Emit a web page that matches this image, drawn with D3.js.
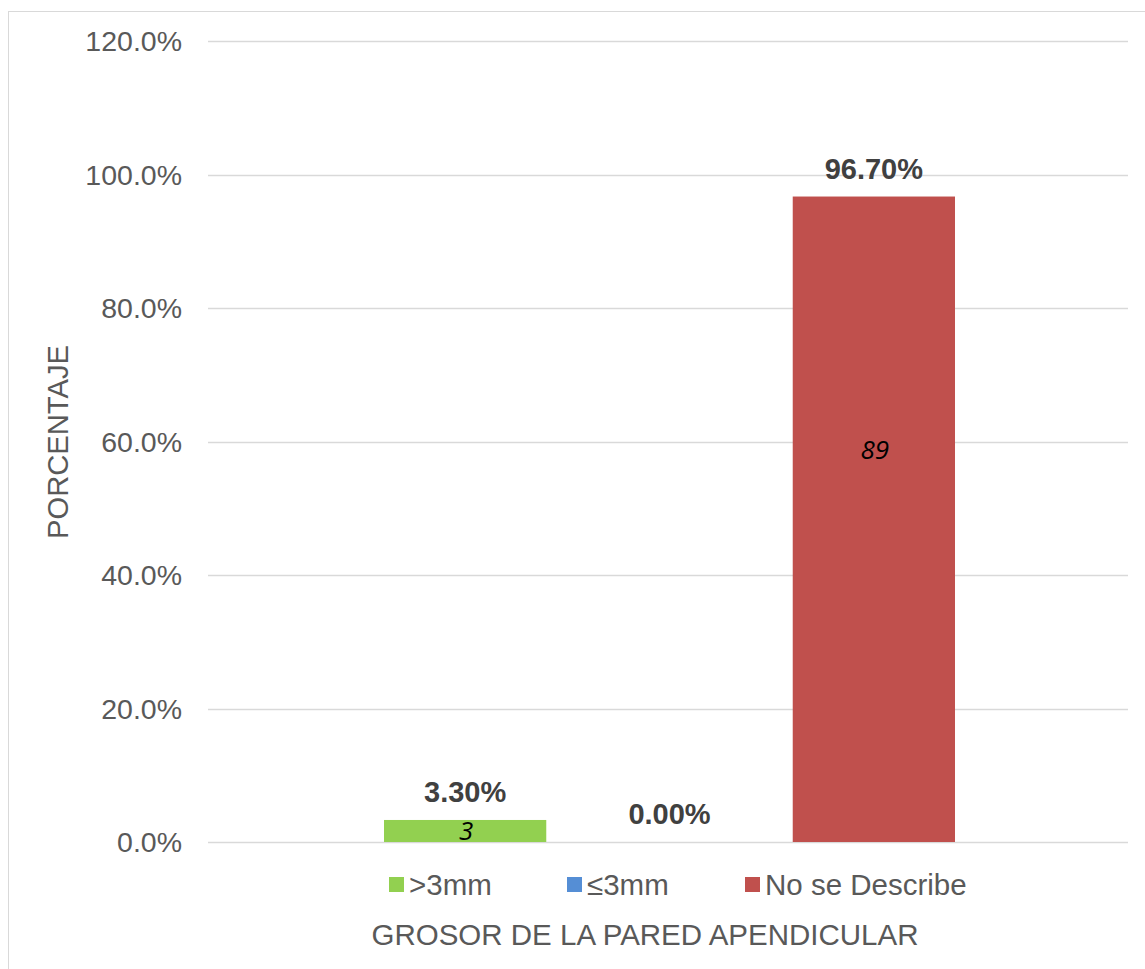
<!DOCTYPE html>
<html><head><meta charset="utf-8">
<script src="https://cdn.jsdelivr.net/npm/d3@7"></script>
<style>body{margin:0;background:#fff}svg{display:block}</style>
</head><body>
<svg id="c" width="1145" height="969"></svg>
<script>
const series = [">3mm", "≤3mm", "No se Describe"];
const values = [0.033, 0.0, 0.967];
const valueLabels = ["3.30%", "0.00%", "96.70%"];
const counts = ["3", "", "89"];
const countLabelAt = [0.0165, 0, 0.587];
const colors = ["#92d050", "#558ed5", "#c0504d"];
const yTicks = [0, 0.2, 0.4, 0.6, 0.8, 1.0, 1.2];
const yTitle = "PORCENTAJE";
const xTitle = "GROSOR DE LA PARED APENDICULAR";

const svg = d3.select("#c");
const font = "'Liberation Sans', Arial, sans-serif";
const fs = 28.5;
const fs2 = 29.5;

// chart border
svg.append("rect").attr("x", 8.5).attr("y", 11.5).attr("width", 1160).attr("height", 1000)
  .attr("fill", "none").attr("stroke", "#d9d9d9").attr("stroke-width", 1);

const x0 = 208, x1 = 1128;
const y = d3.scaleLinear().domain([0, 1.2]).range([842, 41]);
const xb = d3.scaleBand().domain(series).range([384, 955]).paddingInner(0.206).paddingOuter(0);

// gridlines
svg.append("g").selectAll("line").data(yTicks).join("line")
  .attr("x1", x0).attr("x2", x1).attr("y1", d => Math.round(y(d)) + 0.5).attr("y2", d => Math.round(y(d)) + 0.5)
  .attr("stroke", "#d9d9d9").attr("stroke-width", 1.5);

// y axis labels
const yAxis = d3.axisLeft(y).tickValues(yTicks).tickFormat(d3.format(".1%")).tickSize(0).tickPadding(0);
const ga = svg.append("g").attr("transform", `translate(182,0)`).call(yAxis);
ga.select(".domain").remove();
ga.selectAll("text").attr("font-family", font).attr("font-size", fs).attr("fill", "#595959").attr("dy", "0.35em");

// bars
svg.append("g").selectAll("rect").data(values).join("rect")
  .attr("x", (d, i) => xb(series[i])).attr("width", xb.bandwidth())
  .attr("y", d => y(d)).attr("height", d => y(0) - y(d))
  .attr("fill", (d, i) => colors[i]);

// value labels
svg.append("g").selectAll("text").data(values).join("text")
  .attr("x", (d, i) => xb(series[i]) + xb.bandwidth() / 2)
  .attr("y", d => y(d) - 18)
  .attr("text-anchor", "middle").attr("font-family", font).attr("font-weight", "bold")
  .attr("font-size", 29).attr("fill", "#404040")
  .text((d, i) => valueLabels[i]);

// count labels
svg.append("g").selectAll("text").data(counts).join("text")
  .attr("x", (d, i) => xb(series[i]) + xb.bandwidth() / 2 + 1)
  .attr("y", (d, i) => y(countLabelAt[i]) + 9)
  .attr("text-anchor", "middle").attr("font-family", "'Open Sans', sans-serif").attr("font-style", "italic")
  .attr("font-size", 26).attr("fill", "#000")
  .text(d => d);

// legend
const legX = [389, 567, 745];
const lg = svg.append("g");
series.forEach((s, i) => {
  lg.append("rect").attr("x", legX[i]).attr("y", 877).attr("width", 15).attr("height", 15).attr("fill", colors[i]);
  lg.append("text").attr("x", legX[i] + 20).attr("y", 895).attr("font-family", font).attr("font-size", fs2)
    .attr("fill", "#595959").text(s);
});

// axis titles
svg.append("text").attr("x", 645).attr("y", 945).attr("text-anchor", "middle")
  .attr("font-family", font).attr("font-size", fs2).attr("fill", "#595959").text(xTitle);
svg.append("text").attr("transform", "translate(68,442) rotate(-90)").attr("text-anchor", "middle")
  .attr("font-family", font).attr("font-size", 29.2).attr("fill", "#595959").text(yTitle);
</script>
</body></html>
